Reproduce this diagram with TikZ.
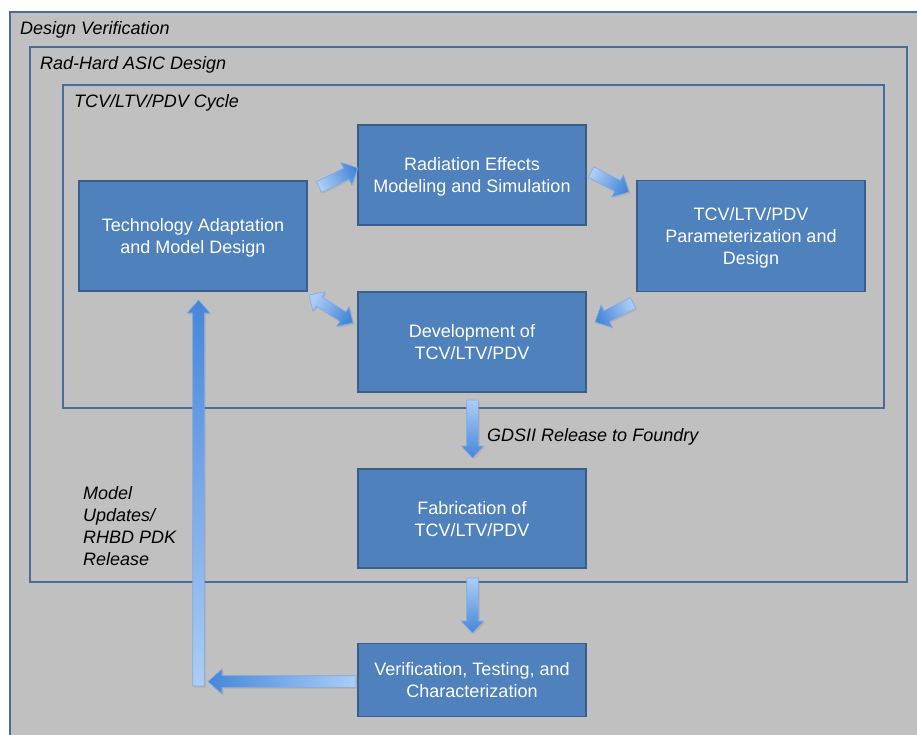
\documentclass[tikz,border=0pt]{standalone}
\usepackage{fontspec}
\setmainfont{Liberation Sans}
\usetikzlibrary{calc,shadows}

\definecolor{bg}{RGB}{192,192,192}
\definecolor{framec}{RGB}{74,108,156}
\definecolor{boxfill}{RGB}{79,129,189}
\definecolor{boxedge}{RGB}{58,94,140}
\definecolor{arrowlight}{RGB}{172,205,246}
\definecolor{arrowdark}{RGB}{70,134,218}
\definecolor{arrowedge}{RGB}{128,170,226}

% invisible struts that keep every text block symmetric about its box centre
\newcommand\firstl{\rule{0pt}{18pt}}
\newcommand\lastl{\rule[-5pt]{0pt}{5pt}}

\tikzset{
  stagebox/.style={rectangle, draw=boxedge, line width=1.2pt, fill=boxfill,
    text=white, align=center, minimum width=228pt, minimum height=100pt,
    inner sep=2pt, font=\fontsize{18}{22}\selectfont},
  framebox/.style={draw=framec, line width=2.4pt},
  framelabel/.style={anchor=base west, inner sep=0pt,
    font=\fontsize{18}{22}\selectfont\itshape},
  blockarrowstyle/.style={draw=arrowedge, line width=0.6pt,
    top color=arrowdark, bottom color=arrowlight,
    drop shadow={opacity=0.18, shadow xshift=1.5pt, shadow yshift=-1.5pt}},
}

% single-headed block arrow: options, tail, tip, shaft half width, head half width, head length
\newcommand\blockarrow[6]{%
  \coordinate (#2-#3-b) at ($(#3)!#6!(#2)$);
  \path[blockarrowstyle,#1]
    ($(#2)!#4!90:(#3)$) -- ($(#2-#3-b)!#4!90:(#3)$) -- ($(#2-#3-b)!#5!90:(#3)$)
    -- (#3) -- ($(#2-#3-b)!#5!-90:(#3)$) -- ($(#2-#3-b)!#4!-90:(#3)$)
    -- ($(#2)!#4!-90:(#3)$) -- cycle;
}
% double-headed block arrow: options, end 1, end 2, shaft half width, head half width, head length
\newcommand\twowayarrow[6]{%
  \coordinate (#2-#3-p) at ($(#2)!#6!(#3)$);
  \coordinate (#2-#3-q) at ($(#3)!#6!(#2)$);
  \path[blockarrowstyle,#1]
    (#2) -- ($(#2-#3-p)!#5!90:(#3)$) -- ($(#2-#3-p)!#4!90:(#3)$)
    -- ($(#2-#3-q)!#4!90:(#3)$) -- ($(#2-#3-q)!#5!90:(#3)$) -- (#3)
    -- ($(#2-#3-q)!#5!-90:(#3)$) -- ($(#2-#3-q)!#4!-90:(#3)$)
    -- ($(#2-#3-p)!#4!-90:(#3)$) -- ($(#2-#3-p)!#5!-90:(#3)$) -- cycle;
}

\begin{document}
\begin{tikzpicture}[x=1pt,y=-1pt]
  \useasboundingbox (0,0) rectangle (917,734);

  % nested frames
  \begin{scope}
    \clip (0,0) rectangle (917,734);
    \draw[framebox, fill=bg] (10,12) rectangle (925,745);
  \end{scope}
  \draw[framebox] (30,47) rectangle (907,582);
  \draw[framebox] (63,85) rectangle (884,408);

  \node[framelabel] (lblverif) at (20,34.5) {Design Verification};
  \node[framelabel] (lblasic) at (40,69.5) {Rad-Hard ASIC Design};
  \node[framelabel] (lblcycle) at (74,107.5) {TCV/LTV/PDV Cycle};

  % process stages
  \node[stagebox, minimum height=110pt] (tech) at (193,236)
    {\firstl Technology Adaptation\\and Model Design\lastl};
  \node[stagebox] (rad) at (472,175)
    {\firstl Radiation Effects\\Modeling and Simulation\lastl};
  \node[stagebox, minimum height=111pt] (param) at (751,236)
    {\firstl TCV/LTV/PDV\\Parameterization and\\Design\lastl};
  \node[stagebox] (dev) at (472,342)
    {\firstl Development of\\TCV/LTV/PDV\lastl};
  \node[stagebox, minimum height=99pt] (fab) at (472,518.5)
    {\firstl Fabrication of\\TCV/LTV/PDV\lastl};
  \node[stagebox, minimum height=73pt] (ver) at (472,680)
    {\firstl Verification, Testing, and\\Characterization\lastl};

  % arrow end points
  \coordinate (a1t) at (319,187);   \coordinate (a1h) at (358,168);
  \coordinate (a2t) at (591,172);   \coordinate (a2h) at (629,192);
  \coordinate (a3t) at (633,303);   \coordinate (a3h) at (595,322);
  \coordinate (a4s) at (309,295);   \coordinate (a4e) at (353,323);
  \coordinate (a5t) at (472.5,400); \coordinate (a5h) at (472.5,458);
  \coordinate (a6t) at (472.5,578); \coordinate (a6h) at (472.5,633);
  \coordinate (a7t) at (356,681.5); \coordinate (a7h) at (208,681.5);
  \coordinate (a8t) at (198.5,686); \coordinate (a8h) at (198.5,300);

  \blockarrow{shading angle=-64}{a1t}{a1h}{6pt}{12.5pt}{13pt}
  \blockarrow{shading angle=-118}{a2t}{a2h}{6pt}{12.5pt}{13pt}
  \blockarrow{shading angle=116.6}{a3t}{a3h}{6pt}{12.5pt}{13pt}
  \twowayarrow{shading angle=-122.5}{a4s}{a4e}{5.5pt}{11.5pt}{12pt}
  \blockarrow{shading angle=180}{a5t}{a5h}{5.8pt}{11pt}{12pt}
  \blockarrow{shading angle=180}{a6t}{a6h}{5.8pt}{11.5pt}{12pt}
  \blockarrow{shading angle=90}{a7t}{a7h}{5.8pt}{12.5pt}{14pt}
  \blockarrow{shading angle=0}{a8t}{a8h}{5.8pt}{11.5pt}{13pt}

  % connector labels
  \node[framelabel] (lblgds) at (487,441.5) {GDSII Release to Foundry};
  \node[anchor=north west, inner sep=0pt, align=left,
        font=\fontsize{18}{22}\selectfont\itshape] (lblupdate) at (83,486.4)
        {Model\\Updates/\\RHBD PDK\\Release};
\end{tikzpicture}
\end{document}
